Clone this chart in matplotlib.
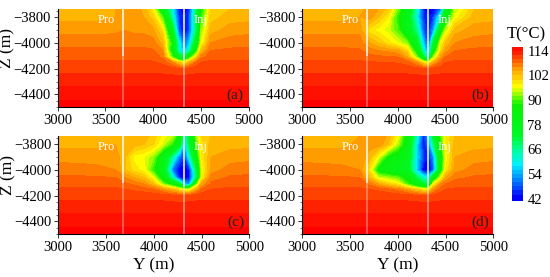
import numpy as np
import matplotlib
matplotlib.use("Agg")
import matplotlib.pyplot as plt
from matplotlib.colors import LinearSegmentedColormap, BoundaryNorm
from matplotlib.ticker import MultipleLocator

plt.rcParams['font.family'] = ['Liberation Serif', 'DejaVu Serif']

y_pos = [3000, 3400, 3600, 3700, 3800, 3900, 4000, 4100, 4200, 4270, 4320, 4370, 4450, 4500, 4600, 4800, 5000]
z_pos = [-3736, -3800, -3900, -4000, -4060, -4110, -4150, -4200, -4300, -4400, -4500]

# deep rows are the same in all panels
row_4200 = [111.3, 111.3, 111.3, 111.3, 111.3, 111.3, 111.2, 111.1, 110.8, 110.6, 110.6, 110.8, 111.1, 111.3, 111.3, 111.3, 111.3]
row_4300 = [113.3] * 17
row_4400 = [115.2] * 17
row_4500 = [117] * 17

temp_a = [
    [102, 102, 104, 105, 105, 103.5, 97, 80, 60, 44, 42, 44, 68, 86, 100, 102, 102],
    [103.3, 103.3, 104, 105, 104.5, 104, 101, 90, 64, 46, 44, 46, 70, 88, 101, 103, 103.3],
    [105.3, 105.3, 105.5, 106, 105.5, 105.5, 104.5, 99, 76, 48, 42, 46, 68, 92, 103, 105, 105.3],
    [107.3, 107.3, 107.3, 107.3, 107.3, 107.3, 107, 103, 86, 60, 50, 54, 78, 96, 106, 107, 107.3],
    [108.5, 108.5, 108.5, 108.5, 108.5, 108.5, 108.2, 106, 84, 62, 54, 62, 86, 102, 108, 108.5, 108.5],
    [109.5, 109.5, 109.5, 109.5, 109.5, 109.5, 109.3, 107.5, 90, 76, 72, 84, 100, 107, 109.3, 109.5, 109.5],
    [110.3, 110.3, 110.3, 110.3, 110.3, 110.3, 110.2, 109.5, 106, 100, 98, 102, 108, 110, 110.3, 110.3, 110.3],
    row_4200, row_4300, row_4400, row_4500,
]
temp_b = [
    [102, 102, 103, 105, 104, 101, 92, 80, 62, 44, 42, 42, 50, 76, 94, 102, 102],
    [103.3, 103.3, 104, 105, 102, 98, 88, 78, 60, 46, 44, 46, 64, 82, 97, 103, 103.3],
    [105.3, 105.3, 105.5, 99, 97, 95, 90, 78, 66, 48, 44, 52, 82, 94, 103, 105, 105.3],
    [107.3, 107.3, 107, 104, 102, 99, 96, 92, 76, 56, 46, 72, 97, 102, 106, 107, 107.3],
    [108.5, 108.5, 108.3, 107, 106, 105.5, 104.5, 100, 84, 62, 50, 82, 100, 105, 108, 108.5, 108.5],
    [109.5, 109.5, 109.3, 108.8, 108.5, 108.3, 108, 104, 92, 72, 62, 92, 105, 108, 109.3, 109.5, 109.5],
    [110.3, 110.3, 110.3, 110.2, 110, 110, 109.8, 109, 105, 98, 96, 103, 108, 110, 110.3, 110.3, 110.3],
    row_4200, row_4300, row_4400, row_4500,
]
temp_c = [
    [102, 102, 103, 104, 103.5, 103, 101, 97, 94, 84, 62, 72, 94, 100, 102, 102, 102],
    [103.3, 103.3, 104, 104, 103, 102, 100, 95, 88, 76, 54, 72, 90, 99, 103, 103.3, 103.3],
    [105.3, 105.3, 105.3, 102, 97, 96, 92, 80, 64, 50, 46, 60, 84, 98, 104, 105, 105.3],
    [107, 106.5, 106, 102, 99, 97, 88, 78, 50, 42, 42, 44, 72, 96, 105, 107, 107.3],
    [108.5, 108.3, 108, 106, 104, 102, 96, 82, 62, 44, 42, 44, 70, 97, 107, 108.3, 108.5],
    [109.5, 109.5, 109.3, 108.5, 107.5, 106, 102, 92, 84, 74, 56, 52, 92, 104, 108.5, 109.5, 109.5],
    [110.3, 110.3, 110.3, 110, 109.5, 109, 108, 105, 102, 98, 96, 94, 104, 108, 110, 110.3, 110.3],
    row_4200, row_4300, row_4400, row_4500,
]
temp_d = [
    [102, 102, 104, 105.5, 106, 103.5, 97, 84, 62, 44, 54, 72, 90, 98, 102, 102, 102],
    [103.3, 103.3, 104.5, 105, 105.5, 102, 94, 82, 58, 44, 50, 66, 86, 98, 103, 103.3, 103.3],
    [105.3, 105.3, 105.5, 103, 96, 86, 82, 78, 58, 46, 44, 52, 84, 96, 104, 105, 105.3],
    [107, 106.5, 106, 99, 84, 82, 78, 76, 56, 42, 42, 48, 84, 98, 105, 107, 107.3],
    [108.5, 108.3, 108, 103, 95, 93, 91, 84, 70, 62, 60, 80, 96, 104, 107.5, 108.3, 108.5],
    [109.5, 109.5, 109.3, 107.5, 104, 101, 98, 90, 80, 72, 70, 96, 106, 108, 109.2, 109.5, 109.5],
    [110.3, 110.3, 110.3, 110, 109.5, 108.5, 107, 104, 100, 98, 96, 105, 109, 110, 110.3, 110.3, 110.3],
    row_4200, row_4300, row_4400, row_4500,
]
panel_labels = ["(a)", "(b)", "(c)", "(d)"]
panel_temps = [temp_a, temp_b, temp_c, temp_d]

cbar_ticks = [42, 54, 66, 78, 90, 102, 114]
levels = np.arange(40, 119, 2)

# colour anchors
anchor_t = [40, 42, 48, 58, 66, 72, 88, 92, 97, 103, 106, 110, 114, 118]
anchor_c = ["#0000ff", "#0000ff", "#0064ff", "#00f0ff", "#00ff8c", "#00f828", "#0cf000", "#78ff00",
            "#ffff00", "#ffbe00", "#ff9600", "#ff5a00", "#ff1e00", "#ff0000"]
stops = [(t - 40) / (118 - 40) for t in anchor_t]
cmap = LinearSegmentedColormap.from_list("temp", list(zip(stops, anchor_c)), N=256)
norm = BoundaryNorm(levels, 256)

fig = plt.figure(figsize=(5.5, 2.77), dpi=100)
W, H = 550.0, 277.0
boxes = [(57.7, 9, 191, 98.3), (302.3, 9, 191, 98.3), (58.3, 136, 191, 98.3), (302.3, 136, 191, 98.3)]

for i, (x0, y0, w, h) in enumerate(boxes):
    ax = fig.add_axes([x0 / W, 1 - (y0 + h) / H, w / W, h / H])
    ax.contourf(y_pos, z_pos, np.array(panel_temps[i]), levels=levels, cmap=cmap, norm=norm, extend='both')
    ax.set_xlim(3000, 5000)
    ax.set_ylim(-4500, -3736)
    # wells: solid above, faint below
    ax.plot([3680, 3680], [-3736, -4100], color='white', lw=1.1, solid_capstyle='butt')
    ax.plot([4320, 4320], [-3736, -4130], color='white', lw=1.1, solid_capstyle='butt')
    ax.plot([3680, 3680], [-4100, -4500], color='white', lw=1.5, alpha=0.3, solid_capstyle='butt')
    ax.plot([4320, 4320], [-4130, -4500], color='white', lw=1.5, alpha=0.4, solid_capstyle='butt')
    ax.text(3505, -3822, "Pro", color='white', fontsize=9, ha='center', va='center')
    ax.text(4490, -3822, "Inj", color='white', fontsize=9, ha='center', va='center')
    ax.text(4860, -4410, panel_labels[i], color='#222222', fontsize=11, ha='center', va='center')
    ax.set_xticks([3000, 3500, 4000, 4500, 5000])
    ax.set_yticks([-3800, -4000, -4200, -4400])
    ax.set_yticklabels(["\u22123800", "\u22124000", "\u22124200", "\u22124400"])
    ax.yaxis.set_minor_locator(MultipleLocator(50))
    ax.tick_params(axis='both', which='major', labelsize=10.5, length=3, width=0.7, pad=2, color='#333333')
    ax.tick_params(axis='y', which='minor', length=1.5, width=0.5, color='#333333')
    ax.spines['top'].set_visible(False)
    ax.spines['right'].set_visible(False)
    if i % 2 == 0:
        ax.set_ylabel("Z (m)", fontsize=12.5)
        ax.yaxis.set_label_coords(-0.222, 0.6)
    if i >= 2:
        ax.set_xlabel("Y (m)", fontsize=12.5, labelpad=2)

# colour bar
cax = fig.add_axes([512 / W, 1 - 200.7 / H, 11.3 / W, 154 / H])
cb_levels = np.arange(40, 117, 2)
cb_vals = (cb_levels[:-1] + cb_levels[1:]) / 2
cax.pcolormesh([0, 1], cb_levels, cb_vals[:, None], cmap=cmap, norm=norm)
cax.set_xticks([])
cax.set_ylim(41, 116)
cax.yaxis.tick_right()
cax.set_yticks(cbar_ticks)
cax.tick_params(axis='y', length=0, labelsize=10.5, pad=3)
for s in cax.spines.values():
    s.set_visible(False)
fig.text(526 / W, 1 - 34 / H, "T(\u00b0C)", fontsize=12, ha='center', va='center')

fig.savefig("out.png", dpi=100)
